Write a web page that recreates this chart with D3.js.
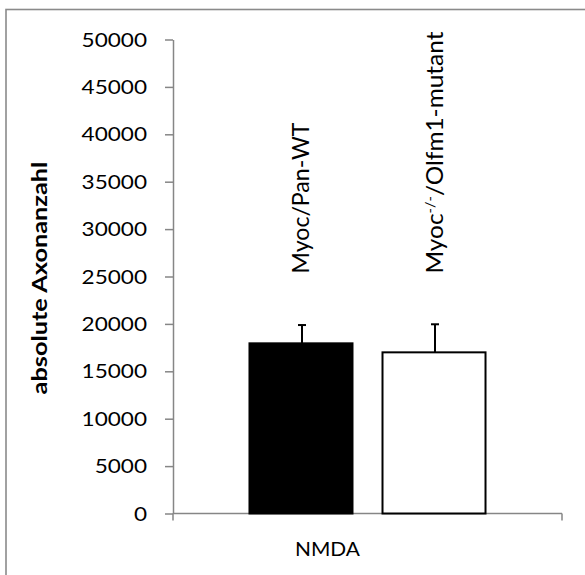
<!DOCTYPE html>
<html><head><meta charset="utf-8">
<script src="https://cdn.jsdelivr.net/npm/d3@7"></script>
<style>html,body{margin:0;padding:0;background:#fff;}svg{display:block;}</style>
</head><body>
<svg id="c" width="585" height="575"></svg>
<script>
// ---- data ----
const categories = ["NMDA"];
const seriesNames = ["Myoc/Pan-WT", "Myoc-/-/Olfm1-mutant"];
const seriesValues = [17950, 17000];
const seriesErrors = [1930, 2960];
const seriesFills = ["#000000", "#ffffff"];
const yTicks = [0, 5000, 10000, 15000, 20000, 25000, 30000, 35000, 40000, 45000, 50000];
const yTitle = "absolute Axonanzahl";

const svg = d3.select("#c");
const FONT = "Lato, 'Open Sans', sans-serif";

// outer frame
svg.append("rect").attr("x", 6).attr("y", 9.5).attr("width", 640).attr("height", 640)
  .attr("fill", "none").attr("stroke", "#8a8a8a").attr("stroke-width", 1.6);

const y = d3.scaleLinear().domain([0, 50000]).range([513.5, 39.5]);
const x0 = d3.scaleBand().domain(categories).range([173, 562]);
const x1 = d3.scaleBand().domain(seriesNames).range([0, x0.bandwidth()])
  .paddingInner(0.2256).paddingOuter(0.575);

// y axis
const yAxis = svg.append("g").attr("transform", "translate(173,0)")
  .call(d3.axisLeft(y).tickValues(yTicks).tickSize(8).tickSizeOuter(0).tickFormat(d3.format("d")));
yAxis.select(".domain").attr("stroke", "#868686").attr("stroke-width", 1.5);
yAxis.selectAll(".tick line").attr("stroke", "#868686").attr("stroke-width", 1.5);
yAxis.selectAll(".tick text").remove();

function fitText(sel, target) {
  sel.each(function() {
    const w = this.getComputedTextLength();
    const t = this.getAttribute("transform");
    this.setAttribute("transform", t + ` scale(${target / w},1)`);
  });
}
// tick labels (horizontally widened to match)
const tl = svg.append("g").selectAll("text").data(yTicks).join("text")
  .attr("transform", d => `translate(147,${y(d) + 7})`)
  .attr("text-anchor", "end")
  .attr("font-family", FONT).attr("font-size", 19.6).attr("fill", "#000")
  .text(d => d3.format("d")(d));
tl.each(function(d) {
  const n = String(d).length;
  fitText(d3.select(this), n * 13.1);
});

// x axis
const xAxisG = svg.append("g").attr("transform", `translate(0,${y(0)})`);
xAxisG.append("line").attr("x1", x0.range()[0]).attr("x2", x0.range()[1])
  .attr("stroke", "#868686").attr("stroke-width", 1.5);
xAxisG.selectAll("line.t").data(x0.range()).join("line").attr("class", "t")
  .attr("x1", d => d).attr("x2", d => d).attr("y1", 0).attr("y2", 7)
  .attr("stroke", "#868686").attr("stroke-width", 1.5);

// bars
const grp = svg.append("g").selectAll("g").data(categories).join("g")
  .attr("transform", d => `translate(${x0(d)},0)`);
const items = seriesNames.map((n, i) => ({name: n, v: seriesValues[i], e: seriesErrors[i], fill: seriesFills[i]}));
grp.selectAll("rect").data(items).join("rect")
  .attr("x", d => x1(d.name)).attr("width", x1.bandwidth())
  .attr("y", d => y(d.v)).attr("height", d => y(0) - y(d.v))
  .attr("fill", d => d.fill).attr("stroke", "#000").attr("stroke-width", 2);
// error bars (upper only)
grp.selectAll("line.err").data(items).join("line").attr("class", "err")
  .attr("x1", d => x1(d.name) + x1.bandwidth() / 2 + 1).attr("x2", d => x1(d.name) + x1.bandwidth() / 2 + 1)
  .attr("y1", d => y(d.v)).attr("y2", d => y(d.v + d.e))
  .attr("stroke", "#000").attr("stroke-width", 2);
grp.selectAll("line.cap").data(items).join("line").attr("class", "cap")
  .attr("x1", d => x1(d.name) + x1.bandwidth() / 2 - 3).attr("x2", d => x1(d.name) + x1.bandwidth() / 2 + 5)
  .attr("y1", d => y(d.v + d.e)).attr("y2", d => y(d.v + d.e))
  .attr("stroke", "#000").attr("stroke-width", 2);

// rotated series labels
const labLen = [151, 242];
items.forEach((d, i) => {
  const cx = x0(categories[0]) + x1(d.name) + x1.bandwidth() / 2;
  const t = svg.append("text")
    .attr("transform", `translate(${cx + 8.5},273.5) rotate(-90)`)
    .attr("font-family", FONT).attr("font-size", 23.4).attr("fill", "#000");
  if (d.name.indexOf("-/-") >= 0) {
    const parts = d.name.split("-/-");
    t.append("tspan").text(parts[0]);
    t.append("tspan").attr("font-size", 14).attr("dy", -8).text("-/-");
    t.append("tspan").attr("dy", 8).text(parts[1]);
  } else {
    t.text(d.name);
  }
  fitText(t, labLen[i]);
});

// x category label
const xl = svg.append("text").attr("transform", `translate(327.5,556)`)
  .attr("text-anchor", "middle").attr("font-family", FONT).attr("font-size", 19.6).attr("fill", "#000")
  .text(categories[0]);
fitText(xl, 65);

// y title
const yt = svg.append("text").attr("transform", `translate(46.5,278) rotate(-90)`)
  .attr("text-anchor", "middle").attr("font-family", FONT).attr("font-weight", "bold")
  .attr("font-size", 21).attr("fill", "#000").text(yTitle);
fitText(yt, 233);
</script>
</body></html>
